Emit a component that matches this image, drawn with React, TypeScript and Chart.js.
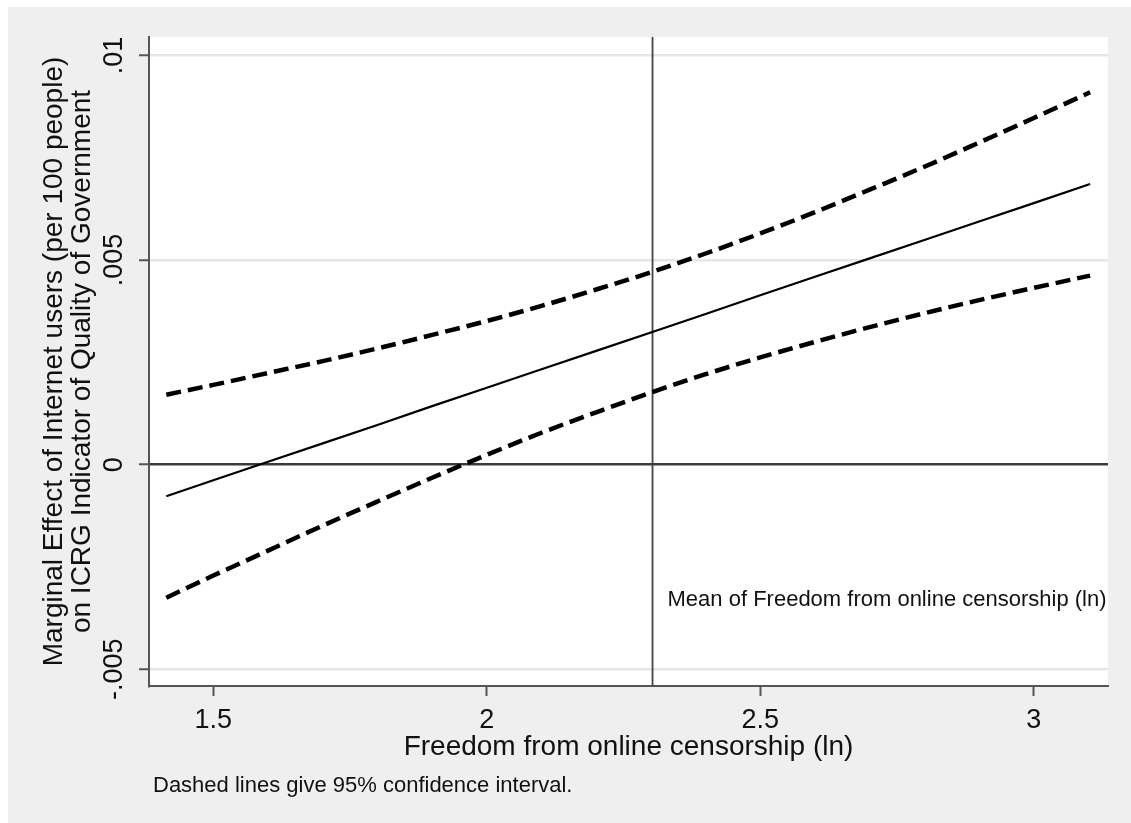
import React, { useEffect, useRef } from "react";
import { Chart, registerables } from "chart.js";

Chart.register(...registerables);

// Freedom from online censorship (ln) at which the marginal effect is evaluated
const CENSORSHIP_LN = [
  1.414, 1.5, 1.6, 1.7, 1.8, 1.9, 2.0, 2.1, 2.2, 2.3, 2.4, 2.5, 2.6, 2.7, 2.8, 2.9, 3.0, 3.103,
];
// Marginal effect of Internet users on ICRG quality of government
const EFFECT = [
  -0.00077, -0.00038, 0.00007, 0.00052, 0.00097, 0.00143, 0.00188, 0.00233, 0.00278,
  0.00323, 0.00368, 0.00414, 0.00459, 0.00504, 0.00549, 0.00594, 0.00639, 0.00686,
];
// 95% confidence bounds
const CI_UPPER = [
  0.00171, 0.00195, 0.00224, 0.00253, 0.00284, 0.00317, 0.00351, 0.00388, 0.00428,
  0.0047, 0.00516, 0.00565, 0.00617, 0.00672, 0.00728, 0.00787, 0.00847, 0.0091,
];
const CI_LOWER = [
  -0.00325, -0.00271, -0.0021, -0.00149, -0.0009, -0.00032, 0.00024, 0.00078, 0.00128,
  0.00176, 0.00221, 0.00262, 0.003, 0.00336, 0.0037, 0.00402, 0.00432, 0.00462,
];
const MEAN_CENSORSHIP = 2.303;

const X_TICKS = [1.5, 2, 2.5, 3];
const X_TICK_LABELS = ["1.5", "2", "2.5", "3"];
const Y_TICKS = [-0.005, 0, 0.005, 0.01];
const Y_TICK_LABELS = ["-.005", "0", ".005", ".01"];
const X_RANGE = [1.3824, 3.1357];
const Y_RANGE = [-0.005408, 0.01045];

const X_TITLE = "Freedom from online censorship (ln)";
const Y_TITLE = [
  "Marginal Effect of Internet users (per 100 people)",
  "on ICRG Indicator of Quality of Government",
];
const MEAN_LABEL = "Mean of Freedom from online censorship (ln)";
const NOTE = "Dashed lines give 95% confidence interval.";

const FONT = "'Liberation Sans', Arial, Helvetica, sans-serif";
const TEXT = "#111111";
const AXIS = "#555555";

const W = 1123;
const H = 816;

const pairs = (ys: number[]) => CENSORSHIP_LN.map((x, i) => ({ x, y: ys[i] }));

const decorPlugin = {
  id: "decor",
  beforeDraw(chart: any) {
    const { ctx, chartArea } = chart;
    ctx.save();
    ctx.fillStyle = "#ffffff";
    ctx.fillRect(chartArea.left, chartArea.top, chartArea.width, chartArea.height);
    ctx.restore();
  },
  afterDraw(chart: any) {
    const { ctx, chartArea } = chart;
    const xs = chart.scales.x;
    ctx.save();
    ctx.fillStyle = TEXT;
    ctx.font = `22px ${FONT}`;
    ctx.textBaseline = "middle";
    ctx.textAlign = "left";
    ctx.fillText(MEAN_LABEL, xs.getPixelForValue(MEAN_CENSORSHIP) + 15, chartArea.bottom - 86);
    ctx.fillText(NOTE, 145, 779);
    ctx.restore();
  },
};

export default function App() {
  const ref = useRef<HTMLCanvasElement | null>(null);

  useEffect(() => {
    if (!ref.current) return;
    const chart = new Chart(ref.current, {
      type: "line",
      data: {
        datasets: [
          {
            label: "upper",
            data: pairs(CI_UPPER),
            borderColor: "#000",
            borderWidth: 4.5,
            borderDash: [15, 7],
            pointRadius: 0,
            cubicInterpolationMode: "monotone",
          },
          {
            label: "lower",
            data: pairs(CI_LOWER),
            borderColor: "#000",
            borderWidth: 4.5,
            borderDash: [15, 7],
            pointRadius: 0,
            cubicInterpolationMode: "monotone",
          },
          {
            label: "effect",
            data: pairs(EFFECT),
            borderColor: "#000",
            borderWidth: 2.2,
            pointRadius: 0,
          },
          {
            label: "mean",
            data: [
              { x: MEAN_CENSORSHIP, y: Y_RANGE[0] },
              { x: MEAN_CENSORSHIP, y: Y_RANGE[1] },
            ],
            borderColor: "#444",
            borderWidth: 1.8,
            pointRadius: 0,
          },
        ],
      },
      options: {
        animation: false,
        responsive: false,
        devicePixelRatio: 1,
        layout: { padding: { top: 30, right: 23, left: 0, bottom: 0 } },
        plugins: {
          legend: { display: false },
          tooltip: { enabled: false },
        },
        scales: {
          x: {
            type: "linear",
            min: X_RANGE[0],
            max: X_RANGE[1],
            afterBuildTicks: (s: any) => {
              s.ticks = X_TICKS.map((value) => ({ value }));
            },
            afterFit: (s: any) => {
              s.height = 137;
            },
            ticks: {
              color: TEXT,
              font: { family: FONT, size: 27 },
              padding: 8,
              maxRotation: 0,
              minRotation: 0,
              callback: (v: any) => {
                const i = X_TICKS.indexOf(Number(v));
                return i >= 0 ? X_TICK_LABELS[i] : "";
              },
            },
            grid: {
              drawOnChartArea: false,
              drawTicks: true,
              tickLength: 10,
              tickColor: AXIS,
              tickWidth: 2,
            },
            border: { display: true, color: AXIS, width: 2 },
            title: {
              display: true,
              text: X_TITLE,
              color: TEXT,
              font: { family: FONT, size: 28 },
              padding: { top: 0, bottom: 59 },
            },
          },
          y: {
            type: "linear",
            min: Y_RANGE[0],
            max: Y_RANGE[1],
            afterBuildTicks: (s: any) => {
              s.ticks = Y_TICKS.map((value) => ({ value }));
            },
            afterFit: (s: any) => {
              s.width = 141;
            },
            ticks: {
              color: TEXT,
              font: { family: FONT, size: 27 },
              minRotation: 90,
              maxRotation: 90,
              crossAlign: "center",
              padding: -6,
              callback: (v: any) => {
                const i = Y_TICKS.findIndex((t) => Math.abs(t - Number(v)) < 1e-9);
                return i >= 0 ? Y_TICK_LABELS[i] : "";
              },
            },
            grid: {
              drawOnChartArea: true,
              drawTicks: true,
              tickLength: 10,
              tickColor: AXIS,
              tickWidth: 2,
              color: (ctx: any) =>
                ctx.tick && Math.abs(ctx.tick.value) < 1e-9 ? "#3a3a3a" : "#e6e6e6",
              lineWidth: 2.5,
            },
            border: { display: true, color: AXIS, width: 2 },
            title: {
              display: true,
              text: Y_TITLE,
              color: TEXT,
              font: { family: FONT, size: 28, lineHeight: "28px" },
              padding: { top: 32, bottom: 0 },
            },
          },
        },
      },
      plugins: [decorPlugin],
    } as any);
    return () => chart.destroy();
  }, []);

  return (
    <div
      style={{
        position: "absolute",
        left: 8,
        top: 7,
        width: W,
        height: H,
        background: "#efefef",
        overflow: "hidden",
      }}
    >
      <canvas ref={ref} width={W} height={H} style={{ display: "block" }} />
    </div>
  );
}
